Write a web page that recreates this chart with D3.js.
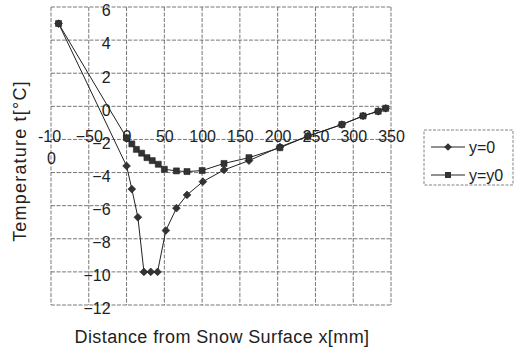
<!DOCTYPE html>
<html>
<head>
<meta charset="utf-8">
<script src="https://cdn.jsdelivr.net/npm/d3@7"></script>
<style>
  body { margin: 0; background: #fff; }
  text { font-family: "Liberation Sans", Arial, sans-serif; fill: #222; }
</style>
</head>
<body>
<div id="chart"></div>
<script>
const width = 524;
const height = 356;

// readings from the reference
const xTicks = [-100, -50, 0, 50, 100, 150, 200, 250, 300, 350];
const yTicks = [-12, -10, -8, -6, -4, -2, 0, 2, 4, 6];

const surfaceX = [-90, 0, 7, 15, 23, 32, 41, 52, 66, 80, 101, 129, 162, 203, 240, 285, 313, 333, 343];
const surfaceT = [5, -3.6, -5.0, -6.7, -10, -10, -10, -7.5, -6.15, -5.35, -4.55, -3.84, -3.28, -2.45, -1.8, -1.1, -0.58, -0.3, -0.12];

const y0X = [-90, 0, 7, 13, 20, 27, 34, 42, 50, 66, 80, 100, 129, 162, 203, 240, 285, 313, 333, 343];
const y0T = [5, -1.9, -2.27, -2.6, -2.83, -3.1, -3.28, -3.5, -3.8, -3.9, -3.94, -3.88, -3.45, -3.1, -2.5, -1.8, -1.1, -0.58, -0.3, -0.12];

const seriesNames = ["y=0", "y=y0"];

const series = [
  { name: seriesNames[0], shape: "diamond", pts: surfaceX.map((x, i) => [x, surfaceT[i]]) },
  { name: seriesNames[1], shape: "square", pts: y0X.map((x, i) => [x, y0T[i]]) },
];

const plot = { left: 51, right: 391, top: 7, bottom: 305 };

const x = d3.scaleLinear().domain([-100, 350]).range([plot.left, plot.right]);
const y = d3.scaleLinear().domain([-12, 6]).range([plot.bottom, plot.top]);

const svg = d3.select("#chart").append("svg")
  .attr("width", width).attr("height", height);

// grid
const grid = svg.append("g").attr("stroke", "#555").attr("stroke-width", 0.8)
  .attr("stroke-dasharray", "4,1.5");
grid.selectAll(".gx").data(xTicks).join("line")
  .attr("x1", d => x(d)).attr("x2", d => x(d))
  .attr("y1", plot.top).attr("y2", plot.bottom);
grid.selectAll(".gy").data(yTicks).join("line")
  .attr("x1", plot.left).attr("x2", plot.right)
  .attr("y1", d => y(d)).attr("y2", d => y(d));

// axes crossing at zero (their lines are the zero grid lines)
const xAxis = svg.append("g")
  .attr("transform", `translate(0,${y(0)})`)
  .call(d3.axisBottom(x).tickValues(xTicks).tickSize(0).tickPadding(24).tickFormat(d3.format("d")));
xAxis.select(".domain").remove();
xAxis.selectAll("text").attr("font-size", 16).attr("fill", "#222")
  .style("font-family", "'Liberation Sans', Arial, sans-serif");
xAxis.selectAll(".tick").filter(d => d === -100).select("text")
  .text(null)
  .call(t => {
    t.append("tspan").attr("x", -2).text("-10");
    t.append("tspan").attr("x", 0).attr("dy", "1.4em").text("0");
  });

const yAxis = svg.append("g")
  .attr("transform", `translate(${x(0)},0)`)
  .call(d3.axisLeft(y).tickValues(yTicks).tickSize(0).tickPadding(16).tickFormat(d3.format("d")));
yAxis.select(".domain").remove();
yAxis.selectAll("text").attr("font-size", 16).attr("dy", "0.55em").attr("fill", "#222")
  .style("font-family", "'Liberation Sans', Arial, sans-serif");

// series
const line = d3.line().x(d => x(d[0])).y(d => y(d[1]));
const symbolFor = s => s === "diamond"
  ? d3.symbol(d3.symbolSquare, 30)
  : d3.symbol(d3.symbolSquare, 36);
const rotFor = s => (s === "diamond" ? 45 : 0);

series.forEach(s => {
  svg.append("path").datum(s.pts)
    .attr("fill", "none").attr("stroke", "#222").attr("stroke-width", 1)
    .attr("d", line);
  svg.append("g").selectAll("path").data(s.pts).join("path")
    .attr("d", symbolFor(s.shape))
    .attr("transform", d => `translate(${x(d[0])},${y(d[1])}) rotate(${rotFor(s.shape)})`)
    .attr("fill", "#333").attr("stroke", "#222").attr("stroke-width", 0.6);
});

// titles
svg.append("text")
  .attr("x", 222).attr("y", 343)
  .attr("text-anchor", "middle").attr("font-size", 18)
  .attr("letter-spacing", 0.4)
  .text("Distance from Snow Surface x[mm]");

svg.append("text")
  .attr("transform", "translate(26,161) rotate(-90)")
  .attr("text-anchor", "middle").attr("font-size", 18)
  .attr("letter-spacing", 1.2)
  .text("Temperature t[°C]");

// legend
const legend = svg.append("g");
legend.append("rect")
  .attr("x", 424).attr("y", 130).attr("width", 89).attr("height", 55)
  .attr("fill", "#fff").attr("stroke", "#666").attr("stroke-width", 0.8)
  .attr("stroke-dasharray", "3,1.5");
const items = legend.selectAll(".item").data(series).join("g")
  .attr("transform", (d, i) => `translate(0,${147 + i * 28})`);
items.append("line").attr("x1", 431).attr("x2", 465)
  .attr("stroke", "#222").attr("stroke-width", 1);
items.append("path")
  .attr("d", d => symbolFor(d.shape)())
  .attr("transform", d => `translate(448,0) rotate(${rotFor(d.shape)})`)
  .attr("fill", "#333");
items.append("text").attr("x", 469).attr("dy", "0.36em")
  .attr("font-size", 16).text(d => d.name);
</script>
</body>
</html>
